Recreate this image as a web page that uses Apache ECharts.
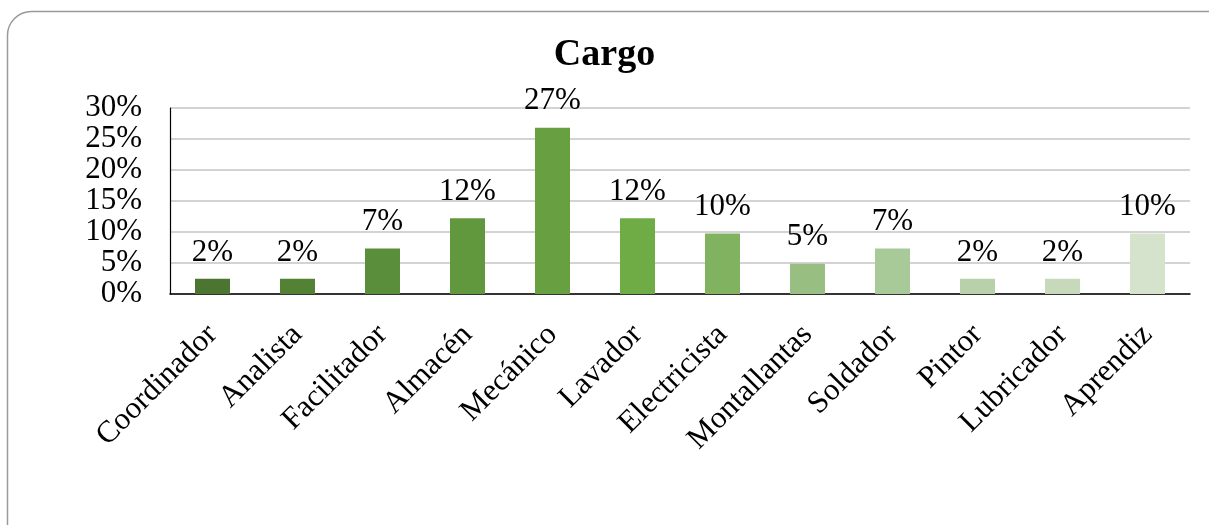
<!DOCTYPE html>
<html>
<head>
<meta charset="utf-8">
<title>Cargo</title>
<script src="https://cdn.jsdelivr.net/npm/echarts@6/dist/echarts.min.js"></script>
<style>
  html, body { margin: 0; padding: 0; background: #fff; }
  #chart { width: 1209px; height: 525px; }
</style>
</head>
<body>
<div id="chart"></div>
<script>
// datos del gráfico (41 personas en total)
var cargos = ['Coordinador', 'Analista', 'Facilitador', 'Almacén', 'Mecánico', 'Lavador',
              'Electricista', 'Montallantas', 'Soldador', 'Pintor', 'Lubricador', 'Aprendiz'];
var porcentajes = [2.44, 2.44, 7.32, 12.20, 26.83, 12.20, 9.76, 4.88, 7.32, 2.44, 2.44, 9.76];
var colores = ['#4b7530', '#548235', '#5b8e3a', '#62983d', '#689f40', '#70ac46',
               '#80b25f', '#98be81', '#a8c998', '#b8d1ab', '#c6d9ba', '#d5e2cc'];
var yTicks = [0, 5, 10, 15, 20, 25, 30];

var serif = '"Liberation Serif", "Times New Roman", serif';

var myChart = echarts.init(document.getElementById('chart'));

var option = {
  backgroundColor: '#fff',
  animation: false,
  title: {
    text: 'Cargo',
    left: 'center',
    top: 31,
    textStyle: { fontFamily: serif, fontSize: 38, fontWeight: 'bold', color: '#000' }
  },
  graphic: [{
    type: 'rect',
    shape: { x: 7.5, y: 11.5, width: 1260, height: 600, r: 24 },
    style: { fill: 'none', stroke: '#9a9a9a', lineWidth: 1.5 },
    silent: true
  }],
  grid: { left: 170, right: 19, top: 108, bottom: 231 },
  xAxis: {
    type: 'category',
    data: cargos,
    axisLine: { lineStyle: { color: '#000', width: 1.5 } },
    axisTick: { show: false },
    axisLabel: {
      rotate: 45,
      interval: 0,
      margin: 36,
      fontFamily: serif,
      fontSize: 31,
      color: '#000'
    }
  },
  yAxis: {
    type: 'value',
    min: yTicks[0],
    max: yTicks[yTicks.length - 1],
    interval: 5,
    axisLine: { show: true, lineStyle: { color: '#000', width: 1.2 } },
    axisTick: { show: false },
    splitLine: { lineStyle: { color: '#c4c4c4', width: 1.5 } },
    axisLabel: {
      margin: 28,
      fontFamily: serif,
      fontSize: 31,
      color: '#000',
      formatter: function (v) { return v + '%'; }
    }
  },
  series: [{
    type: 'bar',
    barWidth: 35,
    data: porcentajes.map(function (v, i) {
      return { value: v, itemStyle: { color: colores[i] } };
    }),
    label: {
      show: true,
      position: 'top',
      distance: 11,
      fontFamily: serif,
      fontSize: 31,
      color: '#000',
      formatter: function (p) { return Math.round(p.value) + '%'; }
    }
  }]
};

myChart.setOption(option);
</script>
</body>
</html>
